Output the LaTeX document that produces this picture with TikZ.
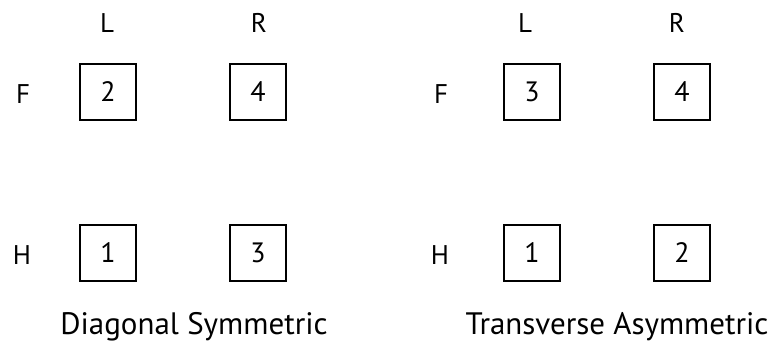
\documentclass[tikz,border=0pt]{standalone}
\usepackage{fontspec}
\setmainfont{PT Sans}
\begin{document}
\begin{tikzpicture}[x=1pt,y=-1pt,
  cell/.style={draw=black,line width=2pt,minimum width=56pt,minimum height=56pt,inner sep=0pt,font=\fontsize{28}{28}\selectfont},
  lbl/.style={inner sep=0pt,font=\fontsize{27}{27}\selectfont},
  ttl/.style={inner sep=0pt,anchor=base,font=\fontsize{31}{31}\selectfont}]
\useasboundingbox (0,0) rectangle (776,342);
% left panel
\node[lbl] (lL) at (107,23) {L};
\node[lbl] (lR) at (259,23) {R};
\node[lbl] (lF) at (23,94) {F};
\node[lbl] (lH) at (22,255) {H};
\node[cell] (a2) at (108,92) {2};
\node[cell] (a4) at (258,92) {4};
\node[cell] (a1) at (108,253) {\raisebox{-3pt}{1}};
\node[cell] (a3) at (258,253) {\raisebox{-1pt}{3}};
\node[ttl] (t1) at (194,334) {Diagonal Symmetric};
% right panel
\node[lbl] (rL) at (525,23) {L};
\node[lbl] (rR) at (677,23) {R};
\node[lbl] (rF) at (441,94) {F};
\node[lbl] (rH) at (440,255) {H};
\node[cell] (b3) at (532,92) {3};
\node[cell] (b4) at (682,92) {4};
\node[cell] (b1) at (532,253) {\raisebox{-3pt}{1}};
\node[cell] (b2) at (682,253) {\raisebox{1pt}{2}};
\node[ttl] (t2) at (617,334) {Transverse Asymmetric};
\end{tikzpicture}
\end{document}
